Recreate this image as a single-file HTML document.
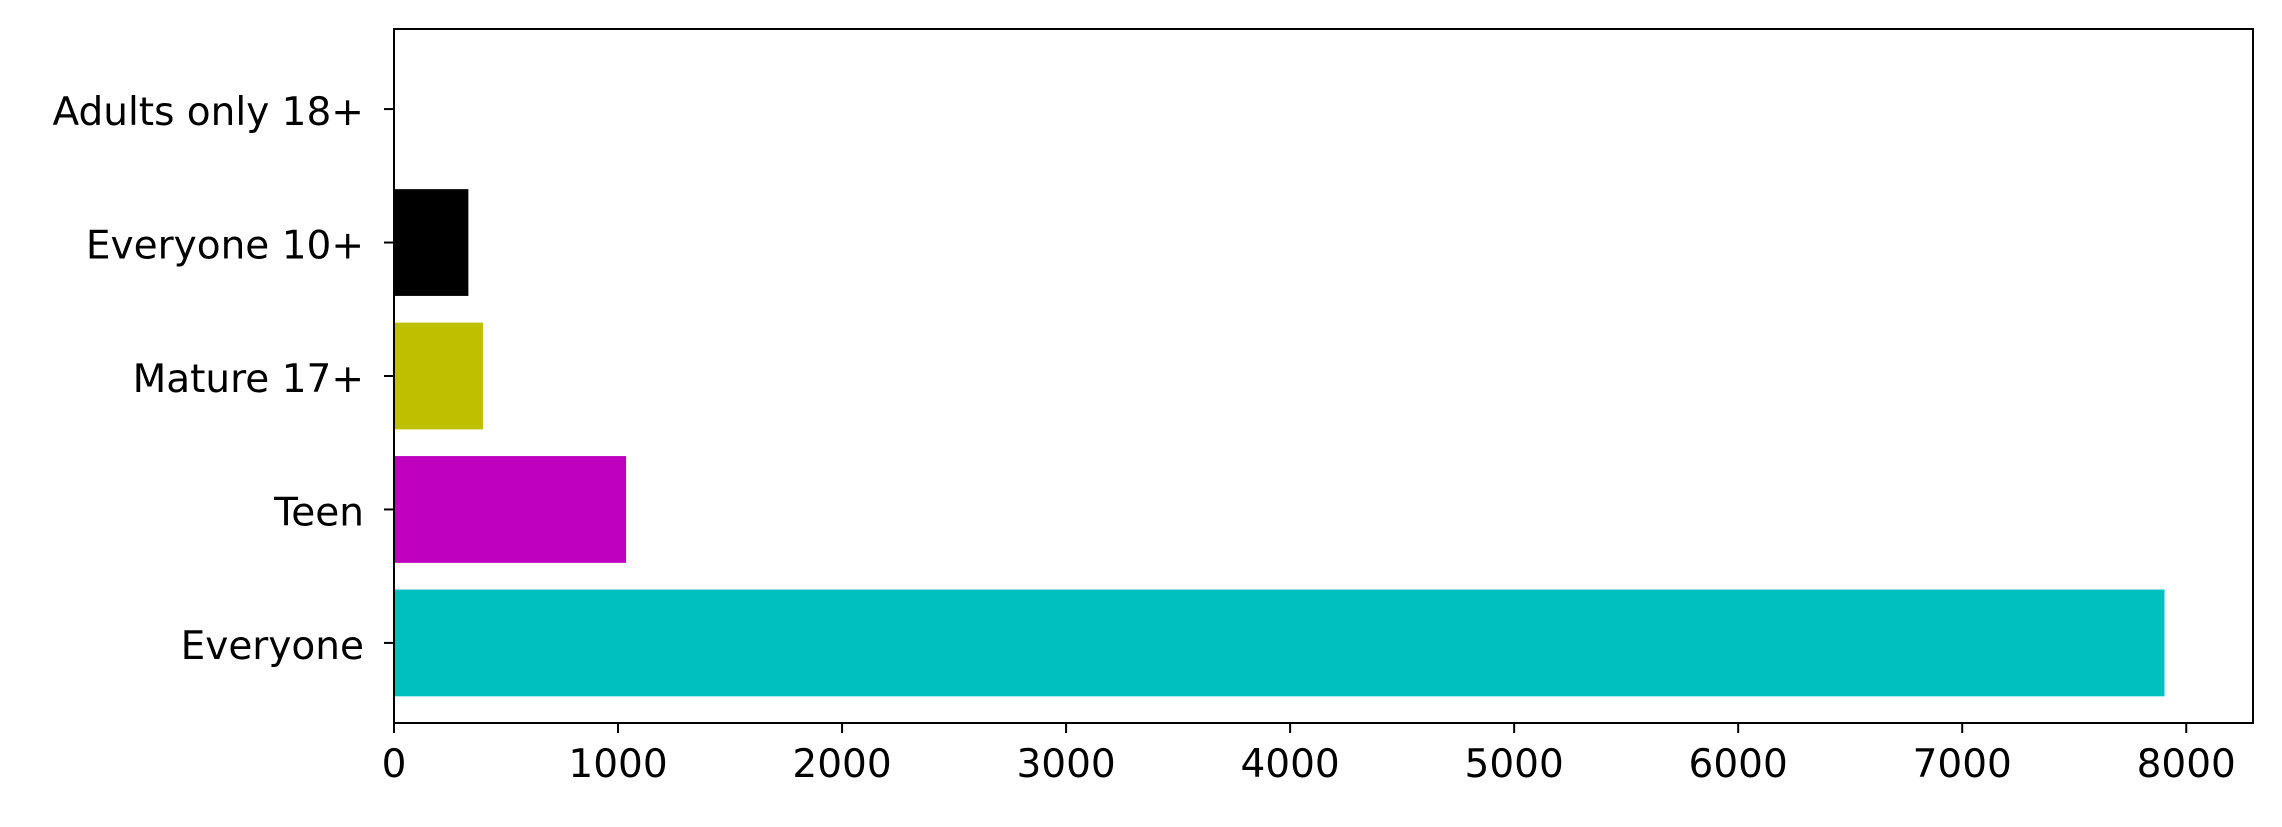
<!DOCTYPE html>
<html><head><meta charset="utf-8"><style>
html,body{margin:0;padding:0;background:#fff;}
svg text{font-family:"DejaVu Sans","Liberation Sans",sans-serif;font-size:39px;fill:#000;}
</style></head><body>
<svg id="chart" width="2282" height="822" xmlns="http://www.w3.org/2000/svg"></svg>
<script>
const categories = ["Everyone","Teen","Mature 17+","Everyone 10+","Adults only 18+"];
const counts = [7903, 1036, 397, 332, 3];
const barColors = ["#00bfbf","#bf00bf","#bfbf00","#000000","#ff0000"];
const xTicks = [0,1000,2000,3000,4000,5000,6000,7000,8000];

const L=394, R=2253, T=29, B=723;
const xMax=8298;
const xS=v=>L+(v/xMax)*(R-L);
const yS=i=>B-(i+0.6)/5.2*(B-T);
const svg=document.getElementById('chart');
const NS='http://www.w3.org/2000/svg';
function mk(tag,attrs){const e=document.createElementNS(NS,tag);for(const k in attrs)e.setAttribute(k,attrs[k]);svg.appendChild(e);return e;}

const bh=0.8/5.2*(B-T);
counts.forEach((v,i)=>{
  const r=mk('rect',{x:xS(0),y:yS(i)-bh/2,width:xS(v)-xS(0),height:bh,fill:barColors[i]});
  
  
});
const frame=mk('rect',{x:L,y:T,width:R-L,height:B-T,fill:'none',stroke:'#000','stroke-width':2});



categories.forEach((c,i)=>{
  const y=yS(i);
  const tk=mk('line',{x1:L-10,x2:L,y1:y,y2:y,stroke:'#000','stroke-width':2});
  
  
  const t=mk('text',{x:L-30,y:y+16,'text-anchor':'end'});
  t.textContent=c;
  
  
});
xTicks.forEach(v=>{
  const x=xS(v);
  const tk=mk('line',{x1:x,x2:x,y1:B,y2:B+10,stroke:'#000','stroke-width':2});
  
  
  const t=mk('text',{x:x,y:B+54,'text-anchor':'middle'});
  t.textContent=v;
  
  
});
</script>
</body></html>
